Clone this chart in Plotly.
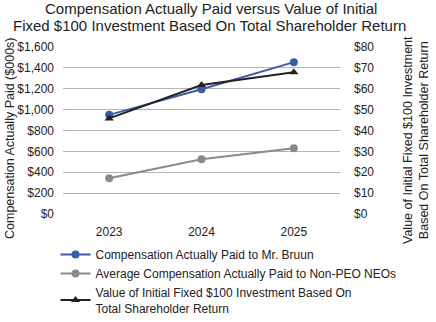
import plotly.graph_objects as go

years = ["2023", "2024", "2025"]
cap_ceo = [950, 1195, 1455]          # $000s
cap_neo_avg = [342, 524, 630]        # $000s
tsr_value = [45.8, 61.8, 67.9]       # $

left_ticks = [0, 200, 400, 600, 800, 1000, 1200, 1400, 1600]
right_ticks = [0, 10, 20, 30, 40, 50, 60, 70, 80]
left_labels = [f"${v:,}" for v in left_ticks]
right_labels = [f"${v}" for v in right_ticks]

FONT = "Liberation Sans, Arial, sans-serif"
BLUE = "#3a5ca6"
GRAY = "#8a8a8a"
BLACK = "#222222"
TEXT = "#222222"

W, H = 436, 322
ML, MR, MT, MB = 63, 96, 47, 108


def px_x(px):
    return (px - ML) / (W - ML - MR)


def px_y(py):
    return (H - MB - py) / (H - MT - MB)


fig = go.Figure()
fig.add_trace(go.Scatter(
    x=years, y=cap_ceo, mode="lines+markers",
    name="Compensation Actually Paid to Mr. Bruun",
    line=dict(color=BLUE, width=2), marker=dict(symbol="circle", size=8, color=BLUE),
))
fig.add_trace(go.Scatter(
    x=years, y=cap_neo_avg, mode="lines+markers",
    name="Average Compensation Actually Paid to Non-PEO NEOs",
    line=dict(color=GRAY, width=2), marker=dict(symbol="circle", size=8, color=GRAY),
))
fig.add_trace(go.Scatter(
    x=years, y=tsr_value, mode="lines+markers", yaxis="y2",
    name="Value of Initial Fixed $100 Investment Based On<br>Total Shareholder Return",
    line=dict(color=BLACK, width=2), marker=dict(symbol="triangle-up", size=8, color=BLACK),
))

annotations = [
    # two-line chart title
    dict(text="Compensation Actually Paid versus Value of Initial",
         xref="paper", yref="paper", x=px_x(211), y=px_y(8),
         xanchor="center", yanchor="middle", showarrow=False, font=dict(size=15, color=TEXT)),
    dict(text="Fixed $100 Investment Based On Total Shareholder Return",
         xref="paper", yref="paper", x=px_x(209), y=px_y(25),
         xanchor="center", yanchor="middle", showarrow=False, font=dict(size=15, color=TEXT)),
    # axis titles
    dict(text="Compensation Actually Paid ($000s)", textangle=-90,
         xref="paper", yref="paper", x=px_x(10), y=px_y(138),
         xanchor="center", yanchor="middle", showarrow=False, font=dict(size=12.5, color=TEXT)),
    dict(text="Value of Initial Fixed $100 Investment<br>Based On Total Shareholder Return", textangle=-90,
         xref="paper", yref="paper", x=px_x(416), y=px_y(140),
         xanchor="center", yanchor="middle", showarrow=False, font=dict(size=12.5, color=TEXT)),
]

fig.update_layout(
    width=W, height=H,
    margin=dict(l=ML, r=MR, t=MT, b=MB, autoexpand=False),
    paper_bgcolor="white", plot_bgcolor="white",
    font=dict(family=FONT, size=12, color=TEXT),
    annotations=annotations,
    xaxis=dict(
        type="category", showgrid=False, showline=False, ticks="",
        tickfont=dict(size=12), range=[-0.5, 2.5], ticklabelstandoff=9,
    ),
    yaxis=dict(
        range=[0, 1600], tickvals=left_ticks, ticktext=left_labels,
        showgrid=True, gridcolor="#b5b5b5", gridwidth=1, zeroline=False,
        showline=False, ticks="", tickfont=dict(size=12), ticklabelstandoff=8,
    ),
    yaxis2=dict(
        range=[0, 80], tickvals=right_ticks, ticktext=right_labels,
        overlaying="y", side="right", showgrid=False, zeroline=False,
        showline=False, ticks="", tickfont=dict(size=12), ticklabelstandoff=13,
    ),
    legend=dict(
        orientation="v", x=-0.027, xanchor="left",
        yref="container", y=1 - 240 / H, yanchor="top",
        font=dict(size=12), tracegroupgap=0, itemwidth=30,
        bgcolor="rgba(0,0,0,0)",
    ),
    showlegend=True,
)

fig.write_html("out.html")
